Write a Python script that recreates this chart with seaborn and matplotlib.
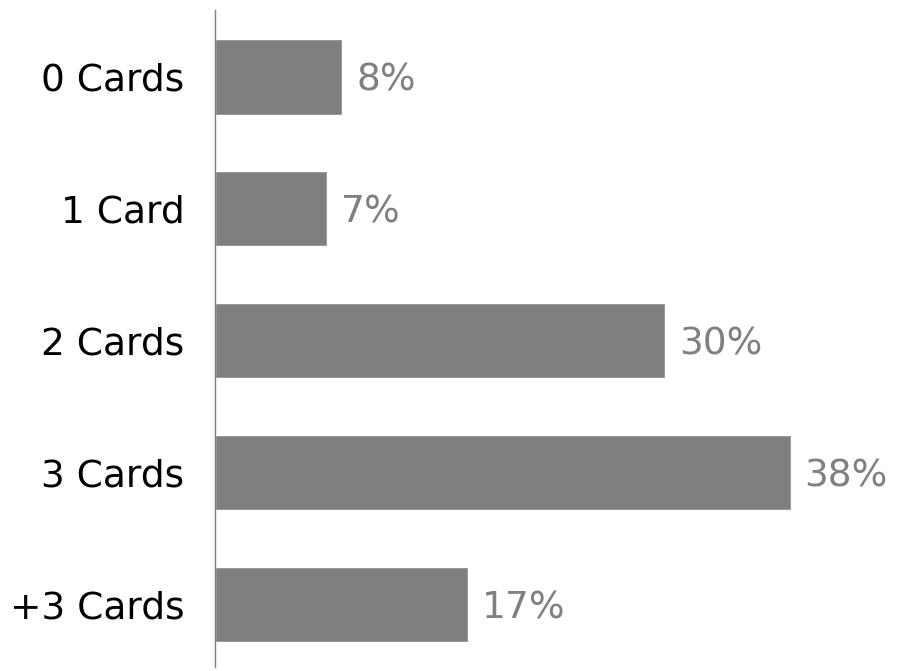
import matplotlib
matplotlib.use("Agg")
import matplotlib.pyplot as plt
import seaborn as sns
import pandas as pd

categories = ["0 Cards", "1 Card", "2 Cards", "3 Cards", "+3 Cards"]
shares = [8.4, 7.4, 29.7, 38.0, 16.7]
value_labels = ["8%", "7%", "30%", "38%", "17%"]

sns.set_style("white")
plt.rcParams["font.family"] = ["DejaVu Sans"]

df = pd.DataFrame({"Category": categories, "Share": shares})

fig = plt.figure(figsize=(9.03, 6.71), dpi=100)
ax = fig.add_axes([215 / 903, 4 / 671, 688 / 903, 657 / 671])

sns.barplot(data=df, x="Share", y="Category", color="#7f7f7f", saturation=1,
            width=0.57, ax=ax)

for i, (v, lab) in enumerate(zip(shares, value_labels)):
  ax.annotate(lab, (v, i), xytext=(10, 0), textcoords="offset points",
              va="center_baseline", ha="left", fontsize=27, color="#808080")

ax.set_xlim(0, 688 / 15.15)
ax.set_ylim(4.474, -0.508)
ax.set_xlabel("")
ax.set_ylabel("")
ax.set_xticks([])
ax.tick_params(axis="y", length=0, pad=22, labelsize=27, labelcolor="black")

for s in ["top", "right", "bottom"]:
  ax.spines[s].set_visible(False)
ax.spines["left"].set_color("#7f7f7f")
ax.spines["left"].set_linewidth(1)

fig.savefig("out.png", dpi=100)
